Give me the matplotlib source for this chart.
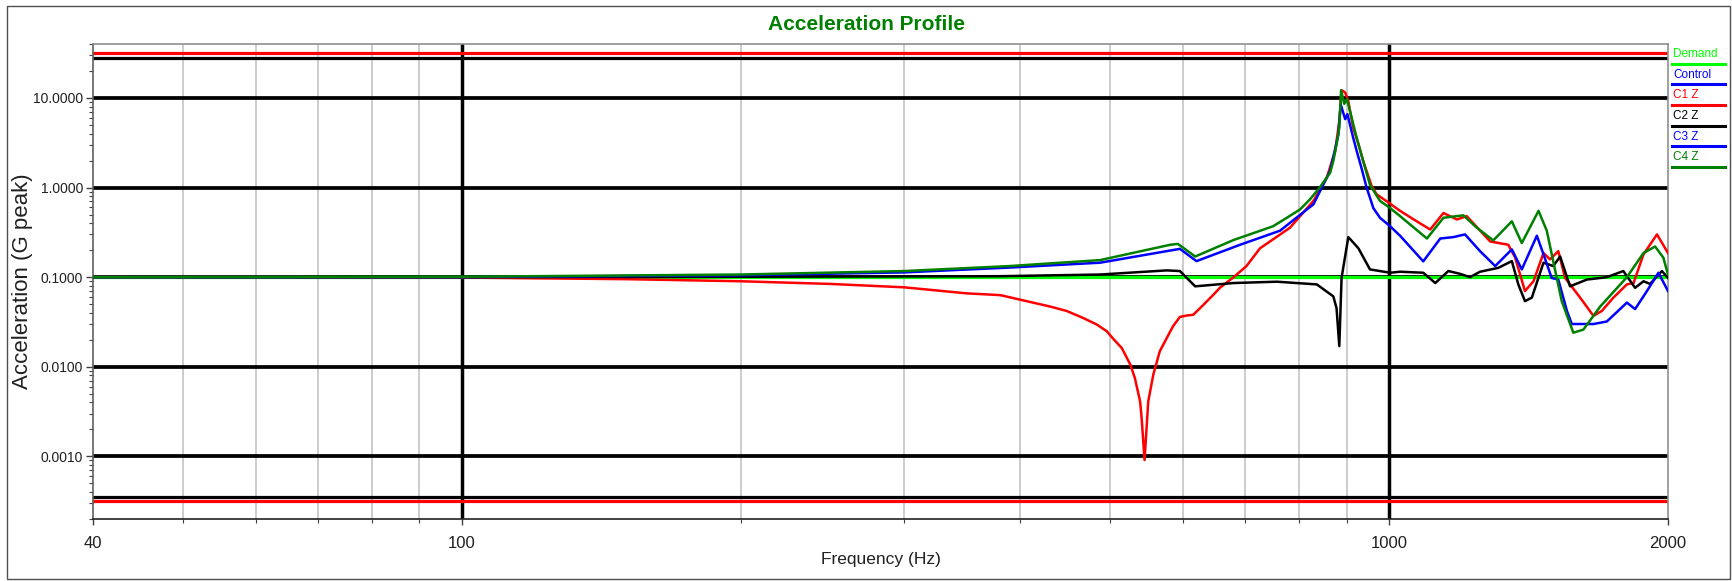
import matplotlib
matplotlib.use('Agg')
import matplotlib.pyplot as plt
from matplotlib.ticker import FixedLocator, FixedFormatter, NullFormatter, LogLocator
from matplotlib.lines import Line2D
from matplotlib.patches import Rectangle

# ---------------- data ----------------
title = "Acceleration Profile"
x_label = "Frequency (Hz)"
y_label = "Acceleration (G peak)"
x_ticks = [40, 100, 1000, 2000]
x_tick_labels = ["40", "100", "1000", "2000"]
x_minor = [50, 60, 70, 80, 90, 200, 300, 400, 500, 600, 700, 800, 900]
x_major_grid = [100, 1000]
y_ticks = [0.001, 0.01, 0.1, 1, 10]
y_tick_labels = ["0.0010", "0.0100", "0.1000", "1.0000", "10.0000"]
x_limits = [40, 2000]
y_limits = [0.0002, 40]

abort_levels = [31.6, 0.000316]
alarm_levels = [28.2, 0.000355]

demand_freq = [40, 2000]
demand = [0.1, 0.1]
control_freq = [40, 2000]
control = [0.1, 0.1]

c1_freq = [40, 60, 100, 150, 200, 250, 300, 350, 381, 431, 449, 468, 484, 496, 504, 515,
           526, 532, 539, 541, 545, 550, 557, 566, 576, 585, 595, 605, 615, 626, 647, 657,
           680, 702, 726, 782, 829, 857, 875, 884, 889, 897, 904, 915, 927, 938, 946, 958,
           970, 995, 1028, 1060, 1108, 1145, 1184, 1213, 1286, 1345, 1368, 1402, 1432,
           1468, 1492, 1523, 1549, 1608, 1662, 1697, 1746, 1806, 1836, 1882, 1946, 2000]
c1 = [0.100, 0.100, 0.099, 0.095, 0.090, 0.084, 0.077, 0.066, 0.063, 0.047, 0.042, 0.035,
      0.0296, 0.025, 0.0206, 0.0162, 0.0106, 0.0075, 0.0041, 0.0027, 0.00091, 0.0041,
      0.0082, 0.0149, 0.021, 0.0284, 0.036, 0.0373, 0.038, 0.0454, 0.064, 0.076, 0.10,
      0.133, 0.21, 0.356, 0.71, 1.29, 2.56, 5.5, 12.2, 11.5, 9.2, 4.65, 3.04, 1.98, 1.53,
      1.04, 0.84, 0.70, 0.55, 0.45, 0.34, 0.52, 0.44, 0.48, 0.25, 0.23, 0.166, 0.070,
      0.090, 0.186, 0.158, 0.195, 0.098, 0.059, 0.037, 0.042, 0.059, 0.083, 0.086, 0.18,
      0.30, 0.186]

c2_freq = [40, 100, 200, 380, 488, 576, 595, 618, 680, 757, 836, 871, 878, 884, 889, 904,
           927, 954, 1003, 1028, 1089, 1122, 1159, 1193, 1223, 1254, 1312, 1357, 1379, 1402,
           1426, 1468, 1504, 1530, 1568, 1635, 1718, 1790, 1843, 1882, 1913, 1970, 2000]
c2 = [0.100, 0.100, 0.101, 0.1025, 0.107, 0.119, 0.117, 0.079, 0.086, 0.089, 0.083, 0.061,
      0.045, 0.017, 0.098, 0.28, 0.21, 0.122, 0.112, 0.115, 0.112, 0.086, 0.117, 0.109,
      0.100, 0.115, 0.127, 0.151, 0.083, 0.054, 0.059, 0.145, 0.133, 0.17, 0.079, 0.094,
      0.100, 0.117, 0.076, 0.090, 0.084, 0.117, 0.098]

c3_freq = [40, 100, 200, 300, 390, 488, 595, 620, 691, 763, 829, 864, 882, 887, 897, 902,
           915, 923, 934, 946, 954, 962, 978, 1003, 1028, 1089, 1136, 1174, 1208, 1254, 1302,
           1357, 1391, 1444, 1468, 1498, 1523, 1556, 1575, 1662, 1718, 1806, 1843, 1898,
           1953, 2000]
c3 = [0.100, 0.100, 0.105, 0.113, 0.128, 0.145, 0.207, 0.151, 0.23, 0.33, 0.65, 1.53, 3.9,
      8.5, 5.8, 6.6, 3.6, 2.56, 1.66, 1.0, 0.77, 0.59, 0.46, 0.37, 0.29, 0.15, 0.27, 0.28,
      0.30, 0.195, 0.133, 0.204, 0.122, 0.29, 0.18, 0.098, 0.094, 0.042, 0.030, 0.030,
      0.032, 0.052, 0.044, 0.070, 0.112, 0.070]

c4_freq = [40, 100, 200, 300, 390, 488, 581, 592, 618, 680, 750, 776, 802, 822, 842, 864,
           871, 878, 884, 888, 895, 901, 923, 938, 954, 978, 1003, 1028, 1099, 1145, 1203,
           1244, 1296, 1357, 1391, 1450, 1480, 1504, 1536, 1581, 1621, 1690, 1806, 1882,
           1937, 1977, 2000]
c4 = [0.100, 0.101, 0.107, 0.117, 0.133, 0.155, 0.23, 0.235, 0.17, 0.26, 0.37, 0.46, 0.57,
      0.74, 1.0, 1.46, 1.98, 3.04, 4.65, 12.2, 8.6, 9.7, 3.6, 1.98, 1.07, 0.71, 0.59, 0.48,
      0.27, 0.46, 0.49, 0.356, 0.257, 0.42, 0.24, 0.55, 0.33, 0.15, 0.054, 0.024, 0.026,
      0.047, 0.10, 0.186, 0.22, 0.165, 0.107]

series = [
    ("Demand", demand_freq, demand, "#00ff00"),
    ("Control", control_freq, control, "#0000ff"),
    ("C1 Z", c1_freq, c1, "#ff0000"),
    ("C2 Z", c2_freq, c2, "#000000"),
    ("C3 Z", c3_freq, c3, "#0000ff"),
    ("C4 Z", c4_freq, c4, "#008000"),
]

# ---------------- figure ----------------
W, H = 1732, 581
plt.rcParams['font.family'] = ['Liberation Sans', 'DejaVu Sans']

fig = plt.figure(figsize=(W / 100, H / 100), dpi=100)
L, R, T, B = 93, 1668, 44, 519
ax = fig.add_axes([L / W, 1 - B / H, (R - L) / W, (B - T) / H])
ax.set_xscale('log')
ax.set_yscale('log')
ax.set_xlim(*x_limits)
ax.set_ylim(*y_limits)

ax.xaxis.set_major_locator(FixedLocator(x_ticks))
ax.xaxis.set_major_formatter(FixedFormatter(x_tick_labels))
ax.xaxis.set_minor_locator(FixedLocator(x_minor))
ax.xaxis.set_minor_formatter(NullFormatter())
ax.yaxis.set_major_locator(FixedLocator(y_ticks))
ax.yaxis.set_major_formatter(FixedFormatter(y_tick_labels))
ax.yaxis.set_minor_locator(LogLocator(base=10, subs=range(2, 10), numticks=20))
ax.yaxis.set_minor_formatter(NullFormatter())

ax.grid(which='minor', axis='x', color='#c8c8c8', lw=1.3, zorder=0)
ax.grid(which='major', axis='y', color='black', lw=2.7, zorder=0)
for xv in x_major_grid:
    ax.axvline(xv, color='black', lw=2.5, zorder=0.5)
ax.set_axisbelow(True)

for lv in alarm_levels:
    ax.axhline(lv, color='black', lw=2.3, zorder=1)
for lv in abort_levels:
    ax.axhline(lv, color='#ff0000', lw=2.3, zorder=1)

# curves
ax.plot(control_freq, control, color='#0000ff', lw=1.8, zorder=2)
ax.plot(demand_freq, demand, color='#00ff00', lw=2.3, zorder=2.5)
for i, (name, fx, fy, col) in enumerate(series[2:]):
    ax.plot(fx, fy, color=col, lw=1.8, zorder=3 + i * 0.1, solid_joinstyle='round')

# spines and ticks
ax.spines['left'].set_color('#606060')
ax.spines['bottom'].set_color('#202020')
ax.spines['top'].set_color('#909090')
ax.spines['right'].set_color('#909090')
for s in ax.spines.values():
    s.set_linewidth(1.2)
ax.tick_params(axis='y', which='major', direction='out', length=5, width=1, color='#404040',
               labelsize=10, pad=2)
ax.tick_params(axis='y', which='minor', direction='out', length=3, width=0.8, color='#404040')
ax.tick_params(axis='x', which='major', direction='out', length=4, width=1, color='#404040',
               labelsize=12, pad=8)
ax.tick_params(axis='x', which='minor', direction='out', length=3, width=0.8, color='#404040')
for lab in ax.get_xticklabels() + ax.get_yticklabels():
    lab.set_color('#202020')

ax.set_xlabel(x_label, fontsize=12.5, color='#202020')
ax.xaxis.set_label_coords(0.5, -(552 - B) / (B - T))
ax.set_ylabel(y_label, fontsize=16, color='#202020')
ax.yaxis.set_label_coords(-(L - 33) / (R - L), 0.5)
ax.set_title(title, fontsize=15, fontweight='bold', color='#008000', pad=10,
             x=(867 - L) / (R - L))

# legend (manual, to the right of the plot)
y0, dy = 54, 20.7
for i, (name, fx, fy, col) in enumerate(series):
    yt = y0 + i * dy
    fig.text(1673 / W, 1 - yt / H, name, color=col, fontsize=8.5,
             ha='left', va='center')
    yl = yt + 9.5
    fig.add_artist(Line2D([1672 / W, 1725 / W], [1 - yl / H, 1 - yl / H], color=col,
                          lw=2.2, transform=fig.transFigure))

# outer frame
fig.add_artist(Rectangle((7 / W, 2 / H), (W - 9) / W, (H - 8) / H, fill=False,
                         edgecolor='#505050', lw=1.0, transform=fig.transFigure))

fig.savefig('out.png', dpi=100)
